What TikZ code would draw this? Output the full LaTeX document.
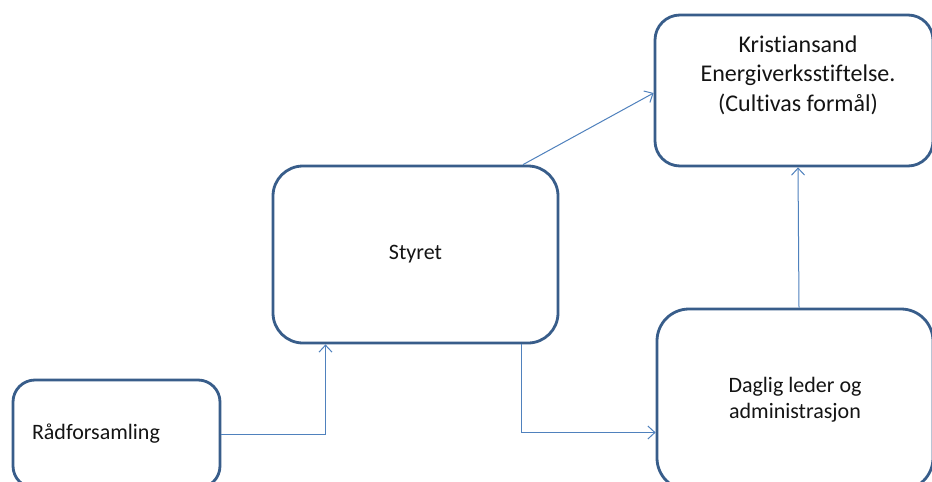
\documentclass[tikz,border=0pt]{standalone}
\usepackage{fontspec}
\setmainfont{Carlito}[Ligatures={NoCommon}]
\usetikzlibrary{arrows.meta}
\definecolor{boxblue}{RGB}{56,93,138}
\definecolor{linkblue}{RGB}{79,129,189}
\definecolor{txtgray}{RGB}{20,20,20}
\tikzset{
  orgbox/.style={draw=boxblue, line width=2.8pt, fill=white, inner sep=0pt, text=txtgray,
    font=\fontsize{22}{26.5}\selectfont, align=center},
  orgtext/.style={inner sep=0pt, text=txtgray, align=center},
  conn/.style={draw=linkblue, line width=1pt, -{Straight Barb[length=7pt,width=13pt]}}
}
\begin{document}
\begin{tikzpicture}[x=1pt,y=-1pt]
\clip (0,0) rectangle (932,482);
\fill[white] (0,0) rectangle (932,482);
% boxes
\node[orgbox, rounded corners=22pt, minimum width=207pt, minimum height=108pt,
      text width=169pt, align=left] (rf) at (116.5,434) {Rådforsamling};
\node[orgbox, rounded corners=30pt, minimum width=285pt, minimum height=177pt] (st) at (415.5,254.5) {Styret};
\node[orgbox, rounded corners=25pt, minimum width=278pt, minimum height=151pt] (ke) at (794,90.5) {};
\node[orgtext, font=\fontsize{24}{29.5}\selectfont] (ket) at (798,75) {Kristiansand\\Energiverksstiftelse.\\(Cultivas formål)};
\node[orgbox, rounded corners=32pt, minimum width=276pt, minimum height=181pt] (dl) at (795,399.5) {Daglig leder og\\administrasjon};
% connectors
\draw[conn] (rf.east) -| ([xshift=-90pt]st.south);
\draw[conn] ([xshift=106pt]st.south) |- ([yshift=-33pt]dl.west);
\draw[conn] ([xshift=107.5pt]st.north) -- ([yshift=-2.5pt]ke.west);
\draw[conn] ([xshift=4pt]dl.north) -- ([xshift=4pt]ke.south);
\end{tikzpicture}
\end{document}
